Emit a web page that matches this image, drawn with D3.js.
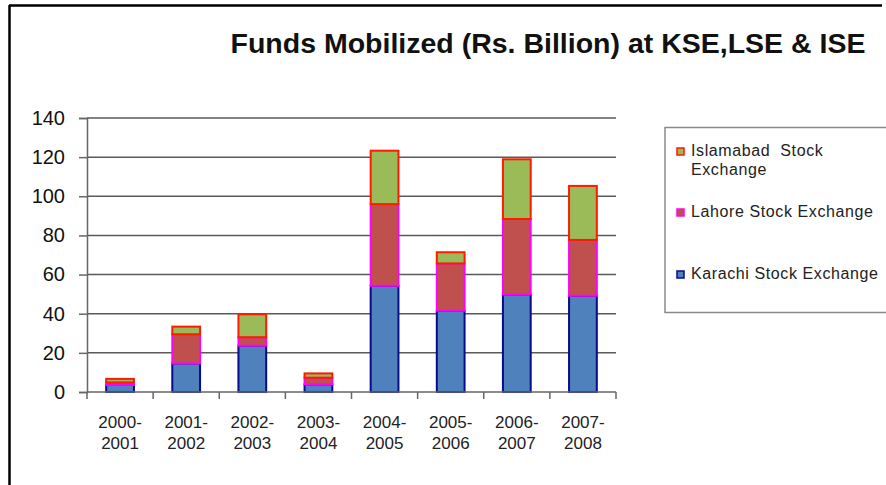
<!DOCTYPE html>
<html>
<head>
<meta charset="utf-8">
<script src="https://cdn.jsdelivr.net/npm/d3@7"></script>
<style>
  body { margin: 0; background: #fff; }
  svg { display: block; font-family: Arial, 'Liberation Sans', sans-serif; }
</style>
</head>
<body>
<div id="chart"></div>
<script>
// Funds mobilized (Rs. billion)
const years = ['2000-2001', '2001-2002', '2002-2003', '2003-2004', '2004-2005', '2005-2006', '2006-2007', '2007-2008']
const karachi = [3.6, 14.6, 23.7, 3.9, 54.3, 41.5, 49.9, 49.2]
const lahore = [1.3, 14.9, 4.3, 3.4, 41.7, 24.2, 38.5, 28.5]
const islamabad = [1.8, 3.9, 11.7, 2.2, 27.3, 5.7, 30.5, 27.6]
const yTicks = [0, 20, 40, 60, 80, 100, 120, 140]

const series = [
  { key: 'karachi', name: 'Karachi Stock Exchange', values: karachi, fill: '#4f81bd', stroke: '#0a0a8c' },
  { key: 'lahore', name: 'Lahore Stock Exchange', values: lahore, fill: '#c0504d', stroke: '#ff00ff' },
  { key: 'islamabad', name: 'Islamabad Stock Exchange', values: islamabad, fill: '#9bbb59', stroke: '#ff1a00' },
]

const width = 886, height = 485
const svg = d3.select('#chart').append('svg')
  .attr('width', width).attr('height', height)

// frame lines (top and left only visible)
svg.append('line').attr('x1', 9).attr('y1', 5.5).attr('x2', 882).attr('y2', 5.5)
  .attr('stroke', '#000').attr('stroke-width', 2.5)
svg.append('line').attr('x1', 9.5).attr('y1', 5).attr('x2', 9.5).attr('y2', height)
  .attr('stroke', '#000').attr('stroke-width', 2.5)

svg.append('text')
  .attr('x', 548).attr('y', 53)
  .attr('text-anchor', 'middle')
  .attr('font-size', '28.5px').attr('font-weight', 'bold').attr('fill', '#111')
  .text('Funds Mobilized (Rs. Billion) at KSE,LSE & ISE')

const plot = { left: 87, right: 616, top: 118, bottom: 392 }

const x = d3.scaleBand().domain(years).range([plot.left, plot.right]).paddingInner(0.58).paddingOuter(0.29)
const xb = d3.scaleBand().domain(years).range([plot.left, plot.right])
const y = d3.scaleLinear().domain([0, 140]).range([plot.bottom, plot.top])

// gridlines
svg.append('g')
  .selectAll('line')
  .data(yTicks.filter(t => t > 0))
  .join('line')
  .attr('x1', plot.left).attr('x2', plot.right)
  .attr('y1', d => y(d)).attr('y2', d => y(d))
  .attr('stroke', '#5a5a5a').attr('stroke-width', 1.5)

// y axis
const yAxis = svg.append('g')
  .attr('transform', `translate(${plot.left},0)`)
  .call(d3.axisLeft(y).tickValues(yTicks).tickSize(8).tickPadding(14))
yAxis.select('.domain').attr('stroke', '#666').attr('stroke-width', 1.5)
yAxis.selectAll('.tick line').attr('stroke', '#666').attr('stroke-width', 1.5)
yAxis.selectAll('.tick text')
  .attr('font-size', '20px').attr('fill', '#111').attr('font-family', 'Arial, Liberation Sans, sans-serif')

// stacked bars
const stack = d3.stack().keys(series.map(s => s.key))
const rows = years.map((yr, i) => ({ year: yr, karachi: karachi[i], lahore: lahore[i], islamabad: islamabad[i] }))
const stacked = stack(rows)

stacked.forEach((layer, li) => {
  const s = series[li]
  svg.append('g')
    .selectAll('rect')
    .data(layer)
    .join('rect')
    .attr('x', d => x(d.data.year))
    .attr('y', d => y(d[1]))
    .attr('width', x.bandwidth())
    .attr('height', d => y(d[0]) - y(d[1]))
    .attr('fill', s.fill)
    .attr('stroke', s.stroke)
    .attr('stroke-width', 2)
})

// x axis
const xAxis = svg.append('g')
  .attr('transform', `translate(0,${plot.bottom})`)
xAxis.append('line')
  .attr('x1', plot.left).attr('x2', plot.right)
  .attr('stroke', '#666').attr('stroke-width', 1.5)
xAxis.selectAll('line.tk')
  .data([plot.left, ...years.map(d => xb(d) + xb.bandwidth())])
  .join('line').attr('class', 'tk')
  .attr('x1', d => d).attr('x2', d => d).attr('y1', 0).attr('y2', 7)
  .attr('stroke', '#666').attr('stroke-width', 1.5)
const xl = xAxis.selectAll('text')
  .data(years)
  .join('text')
  .attr('x', d => xb(d) + xb.bandwidth() / 2)
  .attr('text-anchor', 'middle')
  .attr('font-size', '17px').attr('fill', '#222')
xl.append('tspan').attr('x', d => xb(d) + xb.bandwidth() / 2).attr('y', 36).text(d => d.split('-')[0] + '-')
xl.append('tspan').attr('x', d => xb(d) + xb.bandwidth() / 2).attr('y', 57).text(d => d.split('-')[1])

// legend
const legend = svg.append('g')
legend.append('rect')
  .attr('x', 665).attr('y', 127.5).attr('width', 240).attr('height', 185)
  .attr('fill', '#fff').attr('stroke', '#8a8a8a').attr('stroke-width', 1.5)

const legendItems = [
  { s: series[2], lines: ['Islamabad  Stock', 'Exchange'], y: 156 },
  { s: series[1], lines: ['Lahore Stock Exchange'], y: 217 },
  { s: series[0], lines: ['Karachi Stock Exchange'], y: 279 },
]
legendItems.forEach(item => {
  legend.append('rect')
    .attr('x', 677).attr('y', item.y - 8).attr('width', 7).attr('height', 7)
    .attr('fill', item.s.fill).attr('stroke', item.s.stroke).attr('stroke-width', 1.5)
  const t = legend.append('text')
    .attr('font-size', '16px').attr('fill', '#222').attr('letter-spacing', '0.6px')
    .style('white-space', 'pre')
  item.lines.forEach((ln, i) => {
    t.append('tspan').attr('x', 691).attr('y', item.y + i * 19).text(ln)
  })
})
</script>
</body>
</html>
